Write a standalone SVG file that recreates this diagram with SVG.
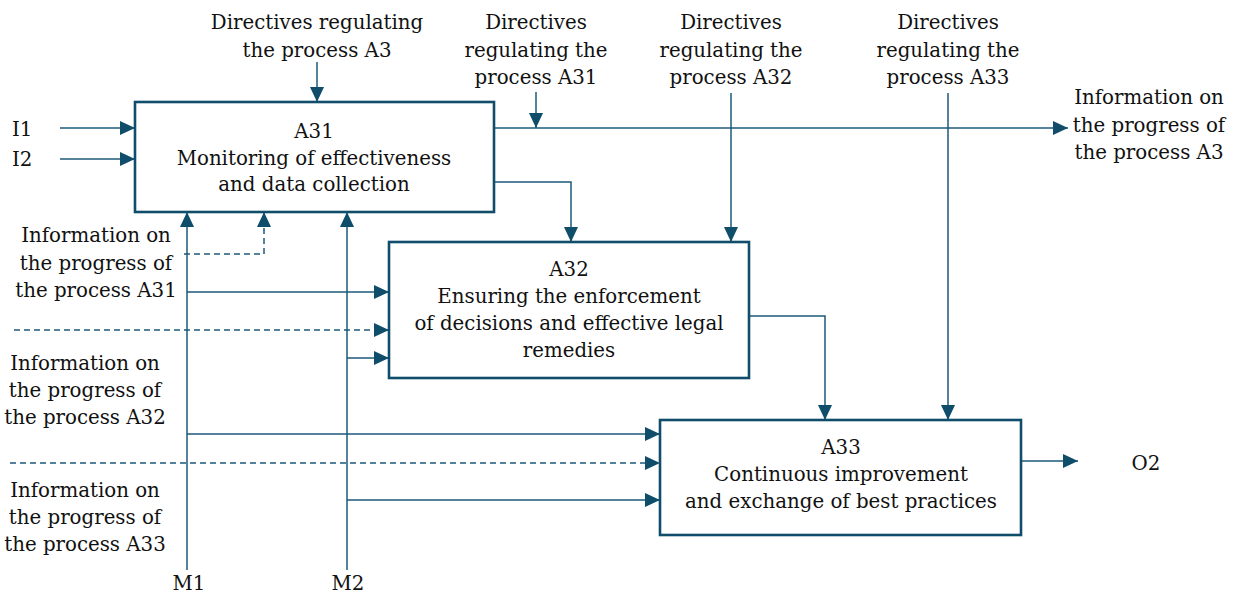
<svg xmlns="http://www.w3.org/2000/svg" width="1234" height="598" viewBox="0 0 1234 598">
<style>
text{font-family:"DejaVu Serif","Liberation Serif",serif;font-size:19.8px;fill:#111;}
.c{text-anchor:middle;}
.box{fill:#fff;stroke:#0f4d6b;stroke-width:2.6;}
.ln{fill:none;stroke:#1d5a7a;stroke-width:1.5;}
.ar{marker-end:url(#ah);}
.d{stroke-dasharray:6 4;}
</style>
<defs>
<marker id="ah" markerUnits="userSpaceOnUse" markerWidth="17" markerHeight="15" refX="15" refY="7" orient="auto">
<path d="M0,0 L15,7 L0,14 z" fill="#0f4d6b"/>
</marker>
</defs>
<rect width="1234" height="598" fill="#fff"/>
<g id="connectors">
<path class="ln ar" d="M60,128 H135"/>
<path class="ln ar" d="M60,159 H135"/>
<path class="ln ar" d="M317,62 V102"/>
<path class="ln ar" d="M494,128 H1068"/>
<path class="ln ar" d="M536,92 V128"/>
<path class="ln ar" d="M731,93 V242"/>
<path class="ln ar" d="M948,93 V420"/>
<path class="ln ar" d="M494,182 H571 V242"/>
<path class="ln ar" d="M749,316 H825 V420"/>
<path class="ln ar" d="M1021,461 H1078"/>
<path class="ln ar" d="M187,570 V212"/>
<path class="ln ar" d="M347,570 V212"/>
<path class="ln ar" d="M187,292 H389"/>
<path class="ln ar" d="M187,434 H660"/>
<path class="ln ar" d="M347,358 H389"/>
<path class="ln ar" d="M347,500 H660"/>
<path class="ln ar d" d="M184,254 H264 V212"/>
<path class="ln ar d" d="M14,330 H389"/>
<path class="ln ar d" d="M10,463 H660"/>
</g>
<g id="A31">
<rect class="box" x="135" y="102" width="359" height="110"/>
<text class="c" x="314" y="138">A31</text>
<text class="c" x="314" y="165">Monitoring of effectiveness</text>
<text class="c" x="314" y="191">and data collection</text>
</g>
<g id="A32">
<rect class="box" x="389" y="242" width="360" height="136"/>
<text class="c" x="569" y="276">A32</text>
<text class="c" x="569" y="303">Ensuring the enforcement</text>
<text class="c" x="569" y="330">of decisions and effective legal</text>
<text class="c" x="569" y="357">remedies</text>
</g>
<g id="A33">
<rect class="box" x="660" y="420" width="361" height="115"/>
<text class="c" x="841" y="454">A33</text>
<text class="c" x="841" y="481">Continuous improvement</text>
<text class="c" x="841" y="508">and exchange of best practices</text>
</g>
<g id="labels">
<text class="c" x="317" y="29">Directives regulating</text>
<text class="c" x="317" y="57">the process A3</text>
<text class="c" x="536" y="29">Directives</text>
<text class="c" x="536" y="57">regulating the</text>
<text class="c" x="536" y="84">process A31</text>
<text class="c" x="731" y="29">Directives</text>
<text class="c" x="731" y="57">regulating the</text>
<text class="c" x="731" y="84">process A32</text>
<text class="c" x="948" y="29">Directives</text>
<text class="c" x="948" y="57">regulating the</text>
<text class="c" x="948" y="84">process A33</text>
<text class="c" x="1149" y="104">Information on</text>
<text class="c" x="1149" y="132">the progress of</text>
<text class="c" x="1149" y="159">the process A3</text>
<text x="12" y="136">I1</text>
<text x="12" y="166">I2</text>
<text class="c" x="96" y="242">Information on</text>
<text class="c" x="96" y="270">the progress of</text>
<text class="c" x="96" y="297">the process A31</text>
<text class="c" x="85" y="370">Information on</text>
<text class="c" x="85" y="397">the progress of</text>
<text class="c" x="85" y="424">the process A32</text>
<text class="c" x="85" y="497">Information on</text>
<text class="c" x="85" y="524">the progress of</text>
<text class="c" x="85" y="551">the process A33</text>
<text class="c" x="189" y="590">M1</text>
<text class="c" x="348" y="590">M2</text>
<text class="c" x="1146" y="470">O2</text>
</g>
</svg>
